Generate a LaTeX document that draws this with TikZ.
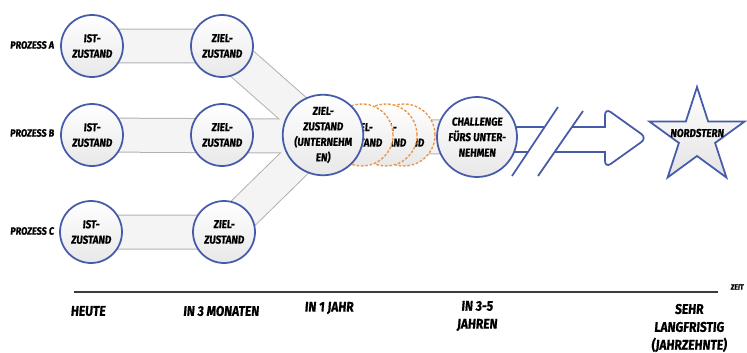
\documentclass[tikz,border=0pt]{standalone}
\usepackage{fontspec}
\setmainfont{Fira Sans}
\newfontfamily\comic[FakeStretch=0.85,FakeSlant=0.08,FakeBold=0.7]{Fira Sans}
\usetikzlibrary{backgrounds}
\definecolor{rand}{RGB}{70,90,170}
\definecolor{zukunft}{RGB}{232,152,80}
\definecolor{bandrand}{RGB}{178,178,178}
\definecolor{achse}{RGB}{60,60,60}

\begin{document}
\begin{tikzpicture}[x=0.02cm,y=-0.02cm,
    zustand/.style={circle,draw=rand,line width=1pt,top color=white,bottom color=gray!18,
        minimum size=1.24cm,inner sep=0pt,align=center,font=\comic\bfseries\fontsize{6.5}{8.8}\selectfont},
    zukunftskreis/.style={zustand,draw=zukunft,line width=0.8pt,dash pattern=on 1.5pt off 1pt},
    bandaussen/.style={line width=0.7cm,color=bandrand},
    bandinnen/.style={line width=0.66cm,color=gray!9},
    zeitpunkt/.style={align=center,font=\comic\bfseries\fontsize{8}{10.2}\selectfont},
    prozess/.style={font=\comic\bfseries\fontsize{6}{7}\selectfont},
    pfeil/.style={draw=rand,line width=1pt}]
    \useasboundingbox (0,0) rectangle (747,352);
    % Prozesse
    \node[prozess] (pa) at (32,45) {PROZESS A};
    \node[prozess] (pb) at (32,133) {PROZESS B};
    \node[prozess] (pc) at (32,231) {PROZESS C};
    \node[zustand] (istA) at (92,46) {IST-\\ZUSTAND};
    \node[zustand] (istB) at (92,135) {IST-\\ZUSTAND};
    \node[zustand] (istC) at (91,232) {IST-\\ZUSTAND};
    \node[zustand] (zielA) at (222,46) {ZIEL-\\ZUSTAND};
    \node[zustand] (zielB) at (222,135) {ZIEL-\\ZUSTAND};
    \node[zustand] (zielC) at (224,232) {ZIEL-\\ZUSTAND};
    % Zukunft
    \node[zukunftskreis] (z3) at (404,135) {ZIEL-\\ZUSTAND};
    \node[zukunftskreis] (z2) at (386,135) {ZIEL-\\ZUSTAND};
    \node[zukunftskreis] (z1) at (362,135) {ZIEL-\\ZUSTAND};
    \node[zustand] (zentral) at (323,135) {ZIEL-\\ZUSTAND\\(UNTERNEHM\\EN)};
    \node[zustand,minimum size=1.6cm] (challenge) at (477,137) {CHALLENGE\\FÜRS UNTER-\\NEHMEN};
    \begin{scope}[on background layer]
        \draw[bandaussen] (istA.center)--(zielA.center)--(zentral.center);
        \draw[bandaussen] (istC.center)--(zielC.center)--(zentral.center);
        \draw[bandaussen] (istB.center)--(challenge.center);
        \draw[bandinnen] (istA.center)--(zielA.center)--(zentral.center);
        \draw[bandinnen] (istC.center)--(zielC.center)--(zentral.center);
        \draw[bandinnen] (istB.center)--(challenge.center);
    \end{scope}
    % Pfeil mit Unterbrechung
    \draw[pfeil] (516,127)--(545,127);
    \draw[pfeil] (514,152)--(528,152);
    \draw[pfeil] (558,107)--(512,176);
    \draw[pfeil] (583,111)--(538,176);
    \draw[pfeil] (572,127)--(605,127) {[rounded corners=4pt]--(605,108)--(647,138)--(605,168)}--(605,152)--(555,152);
    % Nordstern
    \draw[pfeil,top color=white,bottom color=gray!22] (697,87)--(708.2,121.6)--(744.6,121.5)--(715.1,142.9)--(726.4,177.5)
        --(697,156)--(667.6,177.5)--(678.9,142.9)--(649.4,121.5)--(685.8,121.6)--cycle;
    \node[font=\comic\bfseries\fontsize{6.5}{8}\selectfont] (nord) at (697,133) {NORDSTERN};
    % Zeitachse
    \coordinate (anfang) at (74,292);
    \coordinate (ende) at (718,292);
    \draw[achse,line width=1.4pt] (anfang)--(ende);
    \node[font=\comic\bfseries\fontsize{4.5}{5}\selectfont] (zeit) at (737,287) {ZEIT};
    \node[zeitpunkt] (heute) at (88,311) {HEUTE};
    \node[zeitpunkt] (monate) at (221,311) {IN 3 MONATEN};
    \node[zeitpunkt] (jahr) at (329,308) {IN 1 JAHR};
    \node[zeitpunkt] (jahre) at (477,316) {IN 3-5\\JAHREN};
    \node[zeitpunkt] (lang) at (689,328) {SEHR\\LANGFRISTIG\\(JAHRZEHNTE)};
\end{tikzpicture}
\end{document}
